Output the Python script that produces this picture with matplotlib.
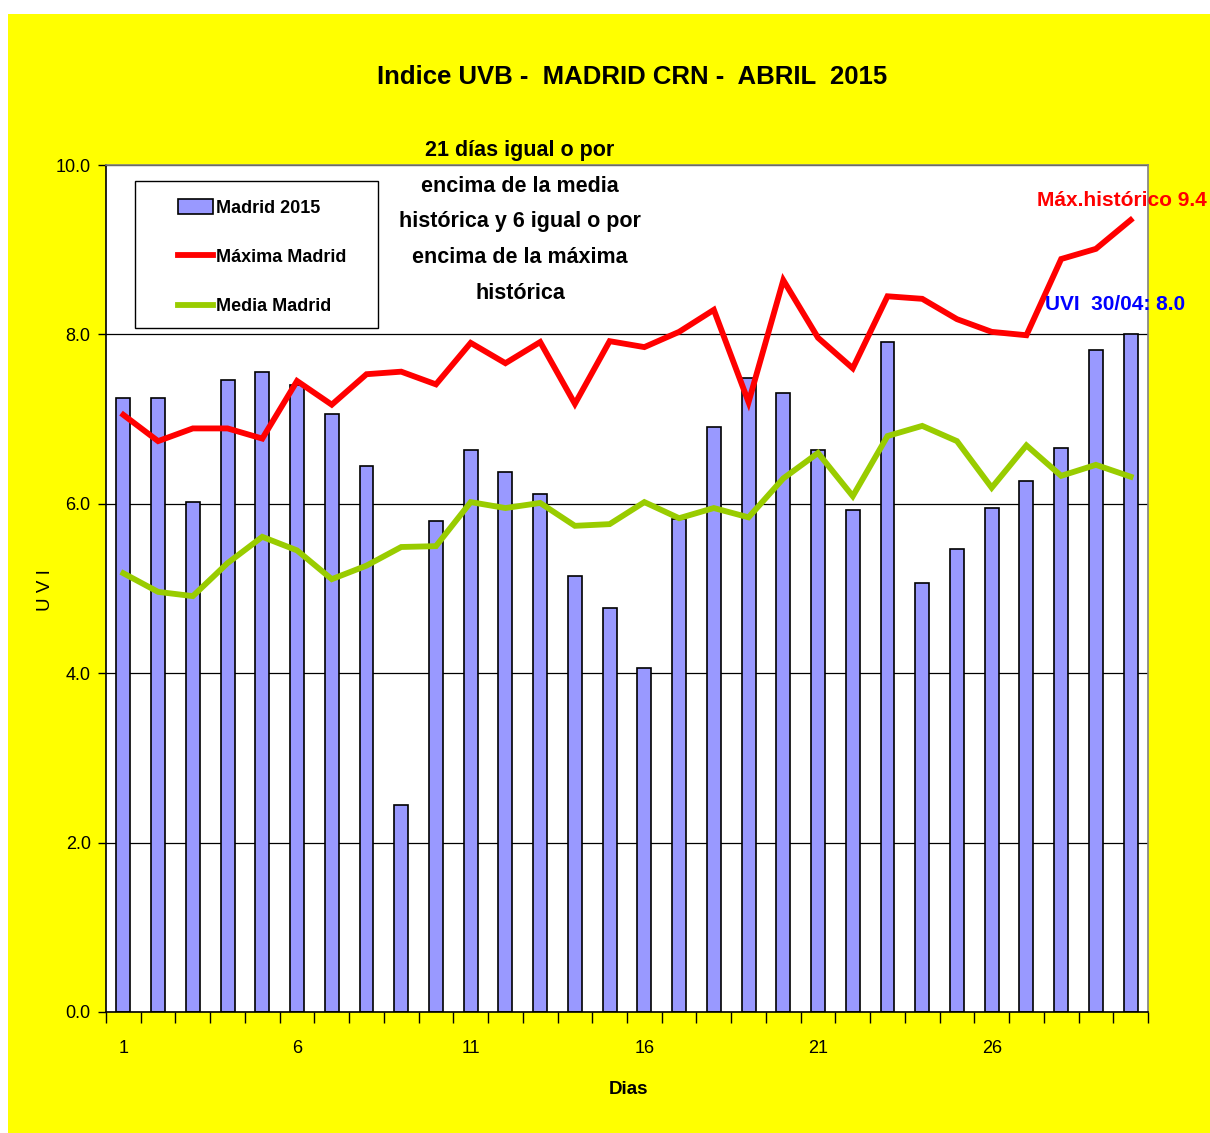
import numpy as np
import matplotlib
matplotlib.use("Agg")
import matplotlib.pyplot as plt
from matplotlib.patches import Rectangle

plt.rcParams['font.family'] = ['Liberation Sans', 'DejaVu Sans']

dias = np.arange(1, 31)
madrid_2015 = [7.25, 7.25, 6.02, 7.46, 7.56, 7.40, 7.06, 6.45, 2.44, 5.80,
               6.64, 6.38, 6.12, 5.15, 4.77, 4.06, 5.82, 6.91, 7.49, 7.31,
               6.64, 5.93, 7.91, 5.07, 5.47, 5.95, 6.27, 6.66, 7.82, 8.0]
maxima_madrid = [7.05, 6.74, 6.89, 6.89, 6.77, 7.45, 7.17, 7.53, 7.56, 7.41,
                 7.90, 7.66, 7.91, 7.18, 7.92, 7.85, 8.03, 8.29, 7.20, 8.64,
                 7.96, 7.60, 8.45, 8.42, 8.18, 8.03, 7.99, 8.89, 9.01, 9.35]
media_madrid = [5.18, 4.96, 4.91, 5.30, 5.61, 5.45, 5.11, 5.27, 5.49, 5.50,
                6.02, 5.95, 6.01, 5.74, 5.76, 6.02, 5.83, 5.95, 5.84, 6.30,
                6.60, 6.09, 6.80, 6.92, 6.74, 6.19, 6.69, 6.33, 6.46, 6.32]
xtick_dias = [1, 6, 11, 16, 21, 26]
ytick_vals = [0, 2, 4, 6, 8, 10]

W, H = 1210, 1133
fig = plt.figure(figsize=(W / 100, H / 100), dpi=100)
fig.patch.set_facecolor('white')
fig.patches.append(Rectangle((8 / W, 0), 1 - 8 / W, 1 - 14 / H,
                             transform=fig.transFigure, facecolor='#FFFF00',
                             edgecolor='none', zorder=-10))

ax = fig.add_axes([106 / W, 1 - 1012 / H, (1148 - 106) / W, (1012 - 165) / H])
ax.set_facecolor('white')

bars = ax.bar(dias, madrid_2015, width=0.4, color='#9999FF', edgecolor='black',
              linewidth=1.2, label='Madrid 2015', zorder=2)
l_max, = ax.plot(dias, maxima_madrid, color='#FF0000', lw=4.2,
                 label='Máxima Madrid', zorder=3, solid_joinstyle='miter')
l_med, = ax.plot(dias, media_madrid, color='#99CC00', lw=4.2,
                 label='Media Madrid', zorder=3, solid_joinstyle='miter')

ax.set_xlim(0.5, 30.5)
ax.set_ylim(0, 10)
ax.set_yticks(ytick_vals)
ax.set_yticklabels([f'{v:.1f}' for v in ytick_vals], fontsize=13)
ax.yaxis.grid(True, color='black', lw=0.9, zorder=1)
ax.set_axisbelow(True)
ax.tick_params(axis='y', direction='out', length=6, width=1, pad=5)

ax.set_xticks(xtick_dias)
ax.set_xticklabels([str(d) for d in xtick_dias], fontsize=13)
ax.set_xticks(np.arange(0.5, 31, 1), minor=True)
ax.tick_params(axis='x', which='major', length=0, pad=20)
ax.tick_params(axis='x', which='minor', direction='out', length=8, width=1)

for side in ['left', 'bottom']:
    ax.spines[side].set_color('black')
    ax.spines[side].set_linewidth(1.2)
for side in ['top', 'right']:
    ax.spines[side].set_color('#808080')
    ax.spines[side].set_linewidth(1.2)

# legend box drawn separately so the padding matches the original
ax.add_patch(Rectangle((29 / 1042, (1012 - 328) / 847), 243 / 1042, 147 / 847,
                       transform=ax.transAxes, facecolor='white',
                       edgecolor='black', lw=1.0, zorder=4))
leg = ax.legend([bars, l_max, l_med],
                ['Madrid 2015', 'Máxima Madrid', 'Media Madrid'],
                loc='upper left', bbox_to_anchor=(72 / 1042, (1012 - 199) / 847),
                frameon=False, prop={'weight': 'bold', 'size': 13},
                handlelength=1.95, handleheight=0.9, handletextpad=0.15,
                labelspacing=1.75, borderpad=0, borderaxespad=0)
leg.set_zorder(5)

fig.text(632 / W, 1 - 77 / H, 'Indice UVB -  MADRID CRN -  ABRIL  2015',
         ha='center', va='center', fontsize=18.5, fontweight='bold')
fig.text(520 / W, 1 - 222 / H,
         '21 días igual o por\nencima de la media\nhistórica y 6 igual o por\n'
         'encima de la máxima\nhistórica',
         ha='center', va='center', fontsize=15.5, fontweight='bold',
         linespacing=1.93, zorder=6)
fig.text(1207 / W, 1 - 200 / H, 'Máx.histórico 9.4', ha='right', va='center',
         fontsize=15, fontweight='bold', color='#FF0000', zorder=6)
fig.text(1185 / W, 1 - 305 / H, 'UVI  30/04: 8.0', ha='right', va='center',
         fontsize=15, fontweight='bold', color='#0000FF', zorder=6)
fig.text(628 / W, 1 - 1090 / H, 'Dias', ha='center', va='center',
         fontsize=13.5, fontweight='bold')
fig.text(45 / W, 1 - 590 / H, 'U V I', ha='center', va='center',
         fontsize=13.5, rotation=90)

fig.savefig('out.png', dpi=100, facecolor=fig.get_facecolor())
